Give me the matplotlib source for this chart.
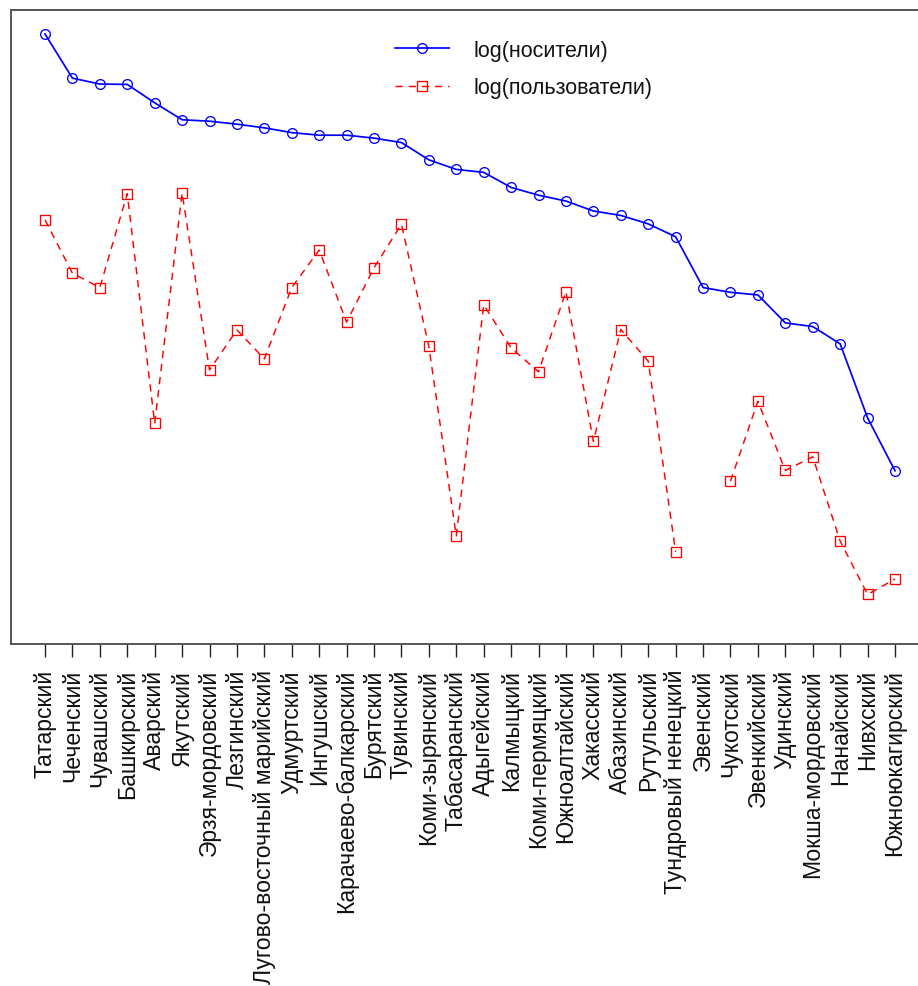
import numpy as np
import matplotlib
matplotlib.use("Agg")
import matplotlib.pyplot as plt

plt.rcParams['font.family'] = ['Liberation Sans', 'DejaVu Sans']

languages = [
    "Татарский", "Чеченский", "Чувашский", "Башкирский", "Аварский", "Якутский",
    "Эрзя-мордовский", "Лезгинский", "Лугово-восточный марийский", "Удмуртский",
    "Ингушский", "Карачаево-балкарский", "Бурятский", "Тувинский", "Коми-зырянский",
    "Табасаранский", "Адыгейский", "Калмыцкий", "Коми-пермяцкий", "Южноалтайский",
    "Хакасский", "Абазинский", "Рутульский", "Тундровый ненецкий", "Эвенский",
    "Чукотский", "Эвенкийский", "Удинский", "Мокша-мордовский", "Нанайский",
    "Нивхский", "Южноюкагирский",
]

log_speakers = [
    15.27, 14.07, 13.91, 13.90, 13.40, 12.94, 12.90, 12.82, 12.72, 12.59,
    12.52, 12.52, 12.44, 12.32, 11.85, 11.59, 11.51, 11.10, 10.89, 10.73,
    10.46, 10.34, 10.11, 9.76, 8.38, 8.25, 8.18, 7.42, 7.32, 6.85,
    4.84, 3.40,
]

log_users = [
    10.22, 8.77, 8.38, 10.93, 4.69, 10.95, 6.14, 7.23, 6.44, 8.38,
    9.40, 7.44, 8.92, 10.10, 6.78, 1.63, 7.91, 6.74, 6.09, 8.27,
    4.20, 7.24, 6.38, 1.20, np.nan, 3.12, 5.29, 3.41, 3.78, 1.49,
    0.04, 0.46,
]

W, H, DPI = 918, 987, 100
fig = plt.figure(figsize=(W / DPI, H / DPI), dpi=DPI)
# plot box: left 11px, top 11px, bottom 645px, right edge runs past the canvas
left_px, top_px, bottom_px, right_px = 11, 11, 645, 929
ax = fig.add_axes([left_px / W, 1 - bottom_px / H,
                   (right_px - left_px) / W, (bottom_px - top_px) / H])

x = np.arange(len(languages))
ax.plot(x, log_speakers, color='#0000ff', lw=1.25, marker='o', ms=7,
        mfc='none', mec='#0000ff', mew=0.95, label='log(носители)')
ax.plot(x, log_users, color='#ff0000', lw=1.05, ls=(0, (5, 4)), marker='s',
        ms=7.2, mfc='none', mec='#ff0000', mew=0.95, label='log(пользователи)')

ax.set_xlim(-1.24, len(languages) - 1 + 1.24)
ax.set_ylim(-1.306, 15.922)

ax.set_xticks(x)
ax.set_xticklabels(languages, rotation=90, fontsize=16.6, color='#111111')
ax.tick_params(axis='x', direction='out', length=9.5, width=1.0, pad=8.5,
               color='#222222')
ax.set_yticks([])

for side in ['left', 'right', 'top', 'bottom']:
    ax.spines[side].set_color('#555555')
    ax.spines[side].set_linewidth(1.4)

leg = ax.legend(loc='upper left', bbox_to_anchor=((395 - left_px) / (right_px - left_px),
                                                   1 - (41 - top_px) / (bottom_px - top_px)),
                frameon=False, fontsize=15.5, handlelength=2.5, handletextpad=1.15,
                labelspacing=0.75, borderaxespad=0, borderpad=0)
for t in leg.get_texts():
    t.set_color('#111111')

fig.savefig('out.png', dpi=DPI)
